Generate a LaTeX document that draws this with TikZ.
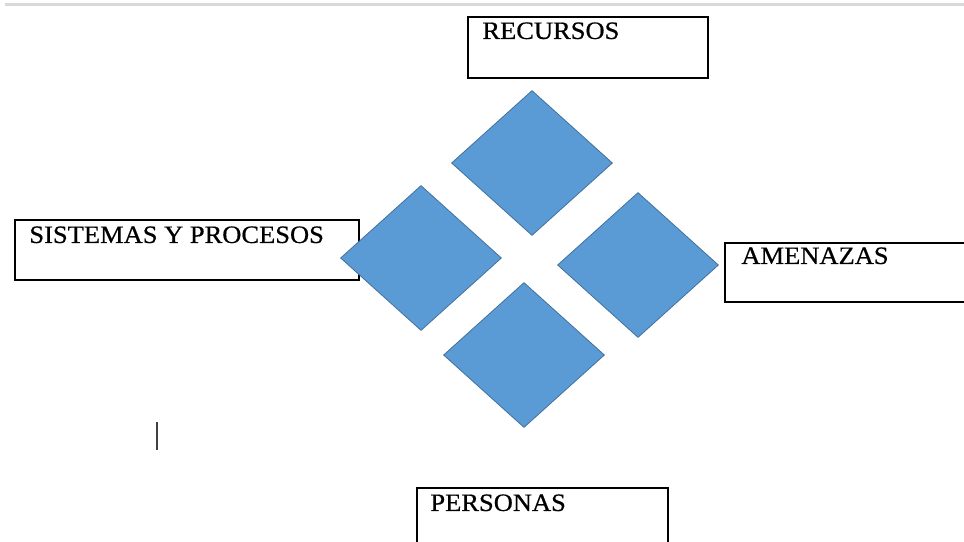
\documentclass[tikz,border=0pt]{standalone}
\usepackage{fontspec}
\setmainfont{Liberation Serif}
\newfontfamily\boxfont{Liberation Serif}[FakeStretch=1.06, FakeBold=0.6]
\usepackage{xcolor}
\usepackage{tikz}
\usetikzlibrary{shapes.geometric, positioning}
\definecolor{tileblue}{HTML}{5B9BD5}
\definecolor{tileedge}{HTML}{41719C}

\begin{document}
\begin{tikzpicture}[x=1pt, y=-1pt,
    box/.style={rectangle, draw, line width=1.6pt, inner sep=0pt},
    boxtext/.style={inner sep=0pt, font=\boxfont\fontsize{25}{28}\selectfont},
    tile/.style={diamond, draw=tileedge, fill=tileblue, line width=0.8pt, inner sep=0pt,
                 minimum width=161pt, minimum height=145pt}]
  \clip (0,0) rectangle (964,541);
  \fill[white] (0,0) rectangle (964,541);
  \draw[line width=3pt, black!15] (5,4) -- (964,4);
  % label boxes
  \node[box, minimum width=240pt, minimum height=61pt] (Rec) at (588,47.5) {};
  \node[boxtext, below right=6pt and 15pt of Rec.north west] (RecText) {RECURSOS};
  \node[box, minimum width=344pt, minimum height=60pt] (Sis) at (187,250) {};
  \node[boxtext, below right=7pt and 15pt of Sis.north west] (SisText) {SISTEMAS Y PROCESOS};
  \node[box, minimum width=260pt, minimum height=59pt] (Ame) at (855,272.5) {};
  \node[boxtext, below right=5pt and 17pt of Ame.north west] (AmeText) {AMENAZAS};
  \node[box, minimum width=251pt, minimum height=72pt] (Per) at (542.5,524) {};
  \node[boxtext, below right=7pt and 14pt of Per.north west] (PerText) {PERSONAS};
  % the four tiles
  \node[tile] (TileTop) at (532,163) {};
  \node[tile] (TileLeft) at (421,258) {};
  \node[tile] (TileRight) at (638,265) {};
  \node[tile] (TileBottom) at (524,355) {};
  % text cursor
  \draw[line width=2pt, black!75] (157,422) -- (157,450);
\end{tikzpicture}
\end{document}
